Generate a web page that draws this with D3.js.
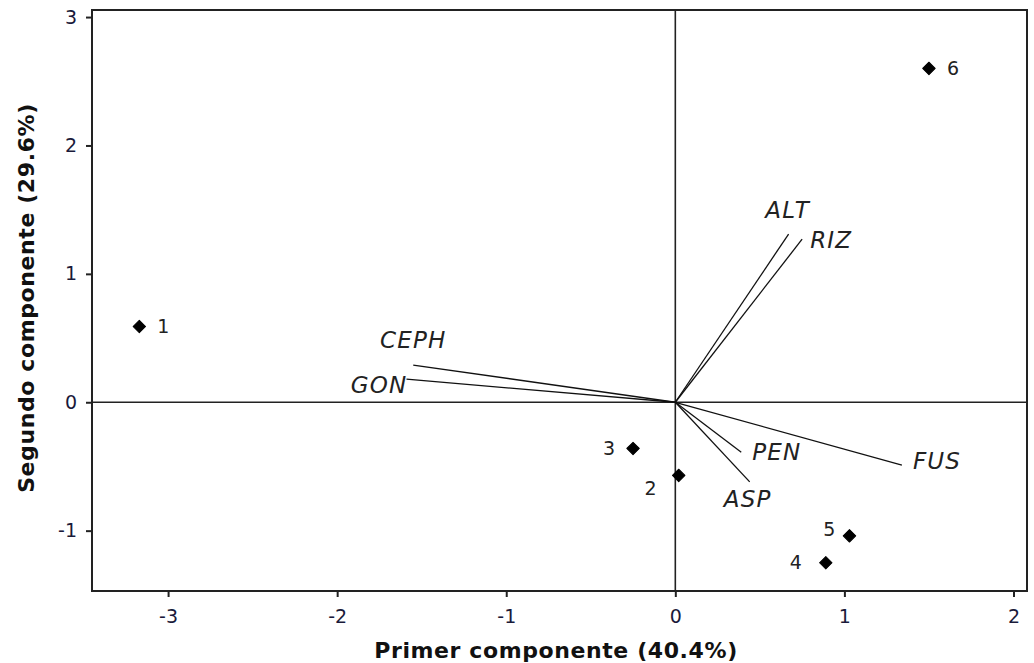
<!DOCTYPE html>
<html>
<head>
<meta charset="utf-8">
<script src="https://cdn.jsdelivr.net/npm/d3@7"></script>
<style>
	body { margin: 0; background: #fff; }
	svg { font-family: "DejaVu Sans", Verdana, sans-serif; }
</style>
</head>
<body>
<svg id="chart"></svg>
<script>
// sample scores
const sampleIds = ["1", "2", "3", "4", "5", "6"];
const sampleX = [-3.17, 0.02, -0.25, 0.89, 1.03, 1.50];
const sampleY = [0.59, -0.57, -0.36, -1.25, -1.04, 2.60];

// variable loadings
const varNames = ["CEPH", "GON", "ALT", "RIZ", "PEN", "ASP", "FUS"];
const varX = [-1.55, -1.59, 0.67, 0.75, 0.39, 0.44, 1.34];
const varY = [0.29, 0.18, 1.31, 1.27, -0.39, -0.62, -0.49];

const xTicks = [-3, -2, -1, 0, 1, 2];
const yTicks = [-1, 0, 1, 2, 3];
const xTitle = "Primer componente (40.4%)";
const yTitle = "Segundo componente (29.6%)";

// label placement (layout only)
const sampleLabelOffset = {
	"1": [18, 0, "start"], "2": [-22, 13, "end"], "3": [-18, 0, "end"],
	"4": [-24, 0, "end"], "5": [-14, -6, "end"], "6": [18, 0, "start"]
};
const varLabelOffset = {
	"CEPH": [0, -25, "middle"], "GON": [1, 6, "end"], "ALT": [-1, -24, "middle"],
	"RIZ": [8, 1, "start"], "PEN": [11, 0, "start"], "ASP": [-26, 17, "start"],
	"FUS": [11, -4, "start"]
};

const width = 1034, height = 663;
const margin = {left: 92, right: 7, top: 10, bottom: 72};

const svg = d3.select("#chart").attr("width", width).attr("height", height);

const x = d3.scaleLinear().domain([-3.45, 2.08]).range([margin.left, width - margin.right]);
const y = d3.scaleLinear().domain([-1.47, 3.055]).range([height - margin.bottom, margin.top]);

// frame
svg.append("rect")
	.attr("x", margin.left).attr("y", margin.top)
	.attr("width", width - margin.left - margin.right)
	.attr("height", height - margin.top - margin.bottom)
	.attr("fill", "none").attr("stroke", "#222").attr("stroke-width", 2);

// axes
let xAxis = svg.append("g")
	.attr("transform", "translate(0," + (height - margin.bottom) + ")")
	.call(d3.axisBottom(x).tickValues(xTicks).tickFormat(d => String(d)).tickSize(6).tickPadding(13));
let yAxis = svg.append("g")
	.attr("transform", "translate(" + margin.left + ",0)")
	.call(d3.axisLeft(y).tickValues(yTicks).tickFormat(d => String(d)).tickSize(6).tickPadding(9));

[xAxis, yAxis].forEach(a => {
	a.select(".domain").remove();
	a.selectAll("line").attr("stroke", "#222").attr("stroke-width", 2);
	a.selectAll("text").attr("font-size", 19).attr("fill", "#1a1a3a")
		.style("font-family", "DejaVu Sans, Verdana, sans-serif");
});

// zero lines
svg.append("line")
	.attr("x1", margin.left).attr("x2", width - margin.right)
	.attr("y1", y(0)).attr("y2", y(0))
	.attr("stroke", "#222").attr("stroke-width", 1.6);
svg.append("line")
	.attr("x1", x(0)).attr("x2", x(0))
	.attr("y1", margin.top).attr("y2", height - margin.bottom)
	.attr("stroke", "#222").attr("stroke-width", 1.6);

// titles
svg.append("text")
	.attr("x", 556)
	.attr("y", 658)
	.attr("text-anchor", "middle")
	.attr("font-size", 22).attr("font-weight", "bold").attr("fill", "#111")
	.attr("letter-spacing", 0.6)
	.text(xTitle);
svg.append("text")
	.attr("transform", "translate(34," + 298 + ") rotate(-90)")
	.attr("text-anchor", "middle")
	.attr("font-size", 22).attr("font-weight", "bold").attr("fill", "#111")
	.attr("letter-spacing", 0.6)
	.text(yTitle);

// vectors
let vars = varNames.map((n, i) => ({name: n, x: varX[i], y: varY[i]}));
let vg = svg.append("g");
vg.selectAll("line")
	.data(vars)
	.join("line")
	.attr("x1", x(0)).attr("y1", y(0))
	.attr("x2", d => x(d.x)).attr("y2", d => y(d.y))
	.attr("stroke", "#111").attr("stroke-width", 1.3);
vg.selectAll("text")
	.data(vars)
	.join("text")
	.attr("x", d => x(d.x) + varLabelOffset[d.name][0])
	.attr("y", d => y(d.y) + varLabelOffset[d.name][1])
	.attr("dy", "0.35em")
	.attr("text-anchor", d => varLabelOffset[d.name][2])
	.attr("font-size", 23).attr("font-style", "italic").attr("fill", "#222")
	.attr("letter-spacing", 1.2)
	.text(d => d.name);

// samples
let samples = sampleIds.map((id, i) => ({id: id, x: sampleX[i], y: sampleY[i]}));
let sg = svg.append("g");
sg.selectAll("path")
	.data(samples)
	.join("path")
	.attr("d", d3.symbol(d3.symbolSquare, 78))
	.attr("transform", d => "translate(" + x(d.x) + "," + y(d.y) + ") rotate(45)")
	.attr("fill", "#000")
	.attr("stroke", "#000").attr("stroke-width", 1).attr("stroke-linejoin", "round");
sg.selectAll("text")
	.data(samples)
	.join("text")
	.attr("x", d => x(d.x) + sampleLabelOffset[d.id][0])
	.attr("y", d => y(d.y) + sampleLabelOffset[d.id][1])
	.attr("dy", "0.35em")
	.attr("text-anchor", d => sampleLabelOffset[d.id][2])
	.attr("font-size", 19).attr("fill", "#222")
	.text(d => d.id);
</script>
</body>
</html>
